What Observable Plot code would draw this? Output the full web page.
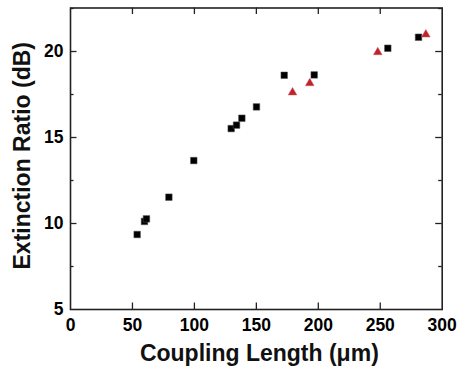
<!DOCTYPE html>
<html>
<head>
<meta charset="utf-8">
<script src="https://cdn.jsdelivr.net/npm/d3@7"></script>
<script src="https://cdn.jsdelivr.net/npm/@observablehq/plot@0.6"></script>
<style>
  html, body { margin: 0; padding: 0; background: #fff; }
  #chart svg { display: block; }
</style>
</head>
<body>
<div id="chart"></div>
<script>
// Square series (black)
const squareLength = [53.8, 59.7, 61.3, 79.4, 99.5, 129.7, 134.0, 138.3, 150.1, 172.5, 196.7, 256.1, 280.9];
const squareER     = [9.36, 10.12, 10.27, 11.53, 13.66, 15.52, 15.72, 16.12, 16.78, 18.62, 18.64, 20.19, 20.83];
// Triangle series (red)
const triangleLength = [179.2, 193.1, 248.0, 286.8];
const triangleER     = [17.62, 18.16, 19.96, 20.99];

const xTicks = [0, 50, 100, 150, 200, 250, 300];
const yTicks = [5, 10, 15, 20];
const yMinorTicks = [7.5, 12.5, 17.5, 22.5];
const xLabel = "Coupling Length (\u03bcm)";
const yLabel = "Extinction Ratio (dB)";

const squares = squareLength.map((x, i) => ({x, y: squareER[i]}));
const triangles = triangleLength.map((x, i) => ({x, y: triangleER[i]}));

const W = 458, H = 367;
const mt = 7.5, mb = 58, ml = 70, mr = 16.3;
const innerH = H - mt - mb;
const innerW = W - ml - mr;
const major = 6.5, minor = 3.5;
const axisColor = "#222";
const font = "'Liberation Sans', Arial, Helvetica, sans-serif";

const innerXTicks = xTicks.slice(1, -1);
const innerYTicks = yTicks.slice(1);

const chart = Plot.plot({
  width: W,
  height: H,
  marginTop: mt,
  marginBottom: mb,
  marginLeft: ml,
  marginRight: mr,
  style: {fontFamily: font, background: "#fff", color: "#000"},
  x: {domain: [0, 300]},
  y: {domain: [5, 22.53]},
  marks: [
    // tick labels
    Plot.axisX({ticks: xTicks, tickSize: 0, tickPadding: 9, label: null, fontSize: 17.5, fontWeight: "bold", tickFormat: d => d}),
    Plot.axisY({ticks: yTicks, tickSize: 0, tickPadding: 7, label: null, fontSize: 17.5, fontWeight: "bold", tickFormat: d => d}),
    // inward ticks: bottom and top
    Plot.tickX(innerXTicks, {x: d => d, insetTop: innerH - major, stroke: axisColor, strokeWidth: 1.3}),
    Plot.tickX(innerXTicks, {x: d => d, insetBottom: innerH - major, stroke: axisColor, strokeWidth: 1.3}),
    // inward ticks: left and right (major)
    Plot.tickY(innerYTicks, {y: d => d, insetRight: innerW - major, stroke: axisColor, strokeWidth: 1.3}),
    Plot.tickY(innerYTicks, {y: d => d, insetLeft: innerW - major, stroke: axisColor, strokeWidth: 1.3}),
    // minor
    Plot.tickY(yMinorTicks, {y: d => d, insetRight: innerW - minor, stroke: axisColor, strokeWidth: 1.3}),
    Plot.tickY(yMinorTicks, {y: d => d, insetLeft: innerW - minor, stroke: axisColor, strokeWidth: 1.3}),
    Plot.frame({stroke: axisColor, strokeWidth: 1.6}),
    // data
    Plot.dot(squares, {x: "x", y: "y", symbol: "square", r: 3.7, fill: "#000", stroke: "#555", strokeWidth: 0.5}),
    Plot.dot(triangles, {x: "x", y: "y", symbol: "triangle", r: 3.2, fill: "#c0222c", stroke: "#d05058", strokeWidth: 0.5}),
    // axis titles
    Plot.text([xLabel], {frameAnchor: "bottom", dy: 44, dx: 3, text: d => d, fontSize: 23, fontWeight: "bold", textAnchor: "middle", lineAnchor: "middle", fill: "#111"}),
    Plot.text([yLabel], {frameAnchor: "left", dx: -48, dy: -3, rotate: -90, text: d => d, fontSize: 23, fontWeight: "bold", textAnchor: "middle", lineAnchor: "middle", fill: "#111"})
  ]
});
document.getElementById("chart").append(chart);
</script>
</body>
</html>
